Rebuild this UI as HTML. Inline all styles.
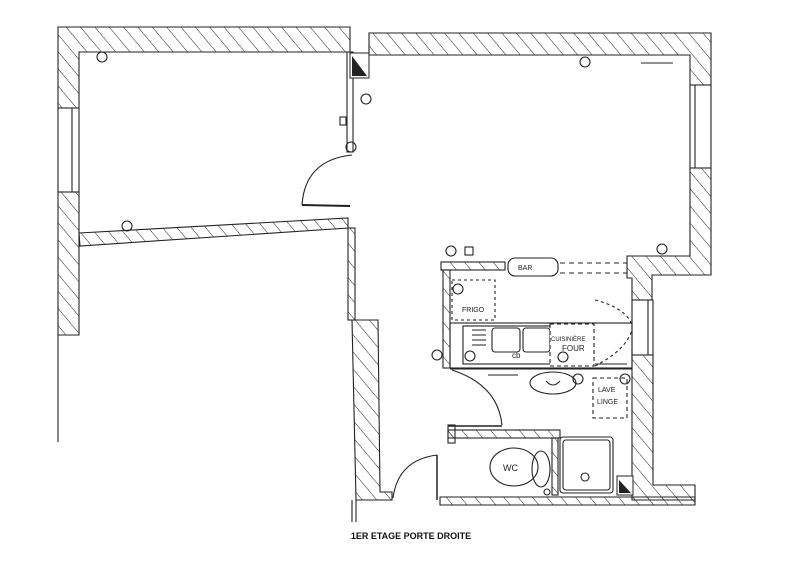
<!DOCTYPE html>
<html><head><meta charset="utf-8"><style>
html,body{margin:0;padding:0;background:#fff;width:800px;height:578px;overflow:hidden}
svg{display:block}
text{font-family:"Liberation Sans",sans-serif}
</style></head><body>
<svg width="800" height="578" viewBox="0 0 800 578" xmlns="http://www.w3.org/2000/svg">
<defs>
<pattern id="h" patternUnits="userSpaceOnUse" width="11" height="11" patternTransform="rotate(-40)">
<line x1="0" y1="0" x2="0" y2="11" stroke="#222" stroke-width="1"/>
</pattern>
</defs>
<g stroke="#222" stroke-width="1.1" fill="url(#h)">
<path d="M58 27 L350 27 L350 52 L79 52 L79 108 L58 108 Z"/>
<path d="M58 192 L79 192 L79 335 L58 335 Z"/>
<rect x="58" y="108" width="21" height="84" fill="#fff"/>
<line x1="72" y1="108" x2="72" y2="192"/>
<path d="M369 33 L711 33 L711 85 L690 85 L690 55 L369 55 Z"/>
<path d="M690 168 L711 168 L711 275 L652 275 L652 300 L632 300 L632 278 L627 278 L627 256 L690 256 Z"/>
<rect x="690" y="85" width="21" height="83" fill="#fff"/>
<line x1="695" y1="85" x2="695" y2="168"/>
<path d="M632 355 L653 355 L653 485 L695 485 L695 500 L632 500 Z"/>
<rect x="632" y="300" width="21" height="55" fill="#fff"/>
<line x1="648" y1="300" x2="648" y2="355"/>
<path d="M79 233 L348 218 L348 228 L80 246 Z"/>
<rect x="348" y="228" width="7" height="92"/>
<rect x="347" y="52" width="6" height="100" fill="none"/>
<path d="M352 320 L378 320 L380 492 L392 492 L392 500 L356 500 Z"/>
<rect x="441" y="262" width="64" height="8"/>
<rect x="443" y="270" width="7" height="98"/>
<rect x="448" y="430" width="112" height="8"/>
<rect x="448" y="425" width="7" height="18"/>
<rect x="552" y="438" width="6" height="57"/>
<path d="M440 497 L695 497 L695 505 L440 505 Z"/>
</g>
<g stroke="#222" stroke-width="1.1" fill="none">
<line x1="58" y1="335" x2="58" y2="442"/>
<line x1="352" y1="500" x2="352" y2="522"/><line x1="356" y1="500" x2="356" y2="522"/>
<path d="M352 155 Q305 160 302 205"/>
<line x1="302" y1="205" x2="350" y2="206" stroke-width="2"/>
<path d="M437 455 Q398 460 393 498"/>
<line x1="437" y1="455" x2="437" y2="500" stroke-width="1.5"/>
<path d="M452 370 Q498 385 502 425"/>
<line x1="448" y1="426" x2="502" y2="426" stroke-width="1.5"/>
<rect x="508" y="258" width="50" height="18" rx="7" fill="#fff"/>
<path d="M560 263 H627 M560 273 H627" stroke-dasharray="5 4"/>
<rect x="452" y="280" width="43" height="40" stroke-dasharray="3 3"/>
<rect x="450" y="323" width="182" height="45"/>
<rect x="463" y="326" width="127" height="38"/>
<path d="M472 330h14M472 335h14M472 340h14M472 345h14" />
<rect x="492" y="328" width="28" height="24" rx="3"/>
<rect x="523" y="328" width="27" height="24" rx="3"/>
<rect x="550" y="324" width="44" height="42" stroke-dasharray="4 3" fill="#fff"/>
<path d="M595 300 Q626 308 632 325 M595 366 Q626 350 632 330" stroke-dasharray="3 3"/>
<line x1="450" y1="369" x2="632" y2="369"/>
<path d="M595 364h32M488 375h30M641 63h32"/>
<ellipse cx="553" cy="383" rx="23" ry="11"/>
<path d="M546 381 q7 8 14 0"/>
<rect x="593" y="378" width="34" height="40" stroke-dasharray="4 3"/>
<ellipse cx="514" cy="467" rx="24" ry="19"/>
<ellipse cx="541" cy="469" rx="9" ry="18"/>
<rect x="560" y="437" width="53" height="56" rx="3"/>
<rect x="563" y="440" width="47" height="50" rx="3"/>
<circle cx="585" cy="477" r="4"/>
<g>
<circle cx="102" cy="57" r="5"/><circle cx="366" cy="99" r="5"/><circle cx="351" cy="147" r="5"/>
<circle cx="127" cy="226" r="5"/><circle cx="585" cy="62" r="5"/><circle cx="662" cy="249" r="5"/>
<circle cx="451" cy="251" r="5"/><circle cx="458" cy="289" r="5"/><circle cx="437" cy="355" r="5"/>
<circle cx="470" cy="356" r="5"/><circle cx="563" cy="357" r="5"/><circle cx="578" cy="379" r="5"/>
<circle cx="625" cy="379" r="5"/><circle cx="547" cy="492" r="3"/>
</g>
<rect x="340" y="117" width="6" height="8"/><rect x="465" y="247" width="8" height="8"/>
</g>
<rect x="350" y="53" width="19" height="25" fill="#fff" stroke="#222"/>
<polygon points="352,56 352,76 367,76" fill="#222"/>
<rect x="617" y="476" width="16" height="19" fill="#fff" stroke="#222"/>
<polygon points="619,480 619,493 631,493" fill="#222"/>
<g font-size="7" fill="#222">
<text x="518" y="270">BAR</text>
<text x="462" y="312">FRIGO</text>
<text x="551" y="341" font-size="6">CUISINIÈRE</text>
<text x="562" y="351" font-size="8">FOUR</text>
<text x="598" y="392">LAVE</text>
<text x="597" y="404">LINGE</text>
<text x="503" y="471" font-size="9">WC</text>
<text x="512" y="358" font-size="8">cb</text>
</g>
<text x="411" y="539" font-size="9" font-weight="bold" text-anchor="middle" fill="#111">1ER ETAGE PORTE DROITE</text>
</svg>
</body></html>
